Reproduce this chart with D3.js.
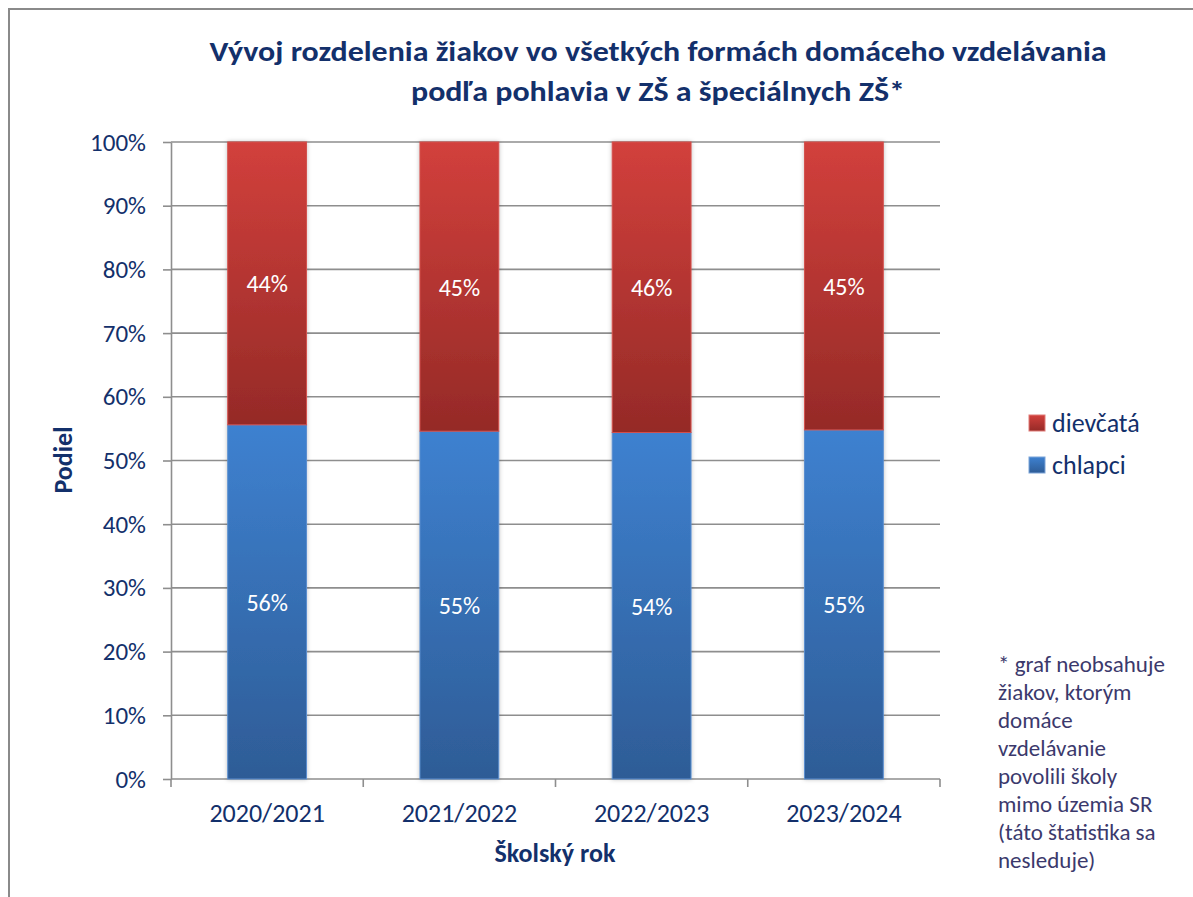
<!DOCTYPE html>
<html lang="sk">
<head>
<meta charset="utf-8">
<script src="https://cdn.jsdelivr.net/npm/d3@7"></script>
<style>
  html, body { margin: 0; padding: 0; background: #fff; }
  svg { display: block; font-family: Carlito, Calibri, Lato, "Open Sans", sans-serif; }
</style>
</head>
<body>
<svg id="chart" width="1193" height="897"></svg>
<script>
// School years on the x axis
const years = ["2020/2021", "2021/2022", "2022/2023", "2023/2024"];
// Share of boys (chlapci) and girls (dievčatá) per year
const chlapci = [0.556, 0.546, 0.544, 0.548];
const dievcata = [0.444, 0.454, 0.456, 0.452];
const seriesNames = ["dievčatá", "chlapci"];
const yTicks = [0, 0.1, 0.2, 0.3, 0.4, 0.5, 0.6, 0.7, 0.8, 0.9, 1.0];
const titleLines = [
  "Vývoj rozdelenia žiakov vo všetkých formách domáceho vzdelávania",
  "podľa pohlavia v ZŠ a špeciálnych ZŠ*"
];
const footnoteLines = [
  "* graf neobsahuje", "žiakov, ktorým", "domáce", "vzdelávanie",
  "povolili školy", "mimo územia SR", "(táto štatistika sa", "nesleduje)"
];

const navy = "#13306b";
const gridColor = "#8e8e8e";
const fontStack = "Carlito, Calibri, Lato, 'Open Sans', sans-serif";
const svg = d3.select("#chart");

// Frame around the chart area
svg.append("path")
  .attr("d", "M9,897 V9 H1193")
  .attr("fill", "none")
  .attr("stroke", "#8a8a8a")
  .attr("stroke-width", 2);

// Gradients: each segment fades from lighter top to darker bottom
const defs = svg.append("defs");
function grad(id, top, bottom) {
  const g = defs.append("linearGradient").attr("id", id)
    .attr("x1", 0).attr("y1", 0).attr("x2", 0).attr("y2", 1);
  g.append("stop").attr("offset", "0%").attr("stop-color", top);
  g.append("stop").attr("offset", "100%").attr("stop-color", bottom);
}
grad("gRed", "#d2403c", "#952a27");
grad("gBlue", "#3e81d0", "#2e5c96");
const shadow = defs.append("filter").attr("id", "shadow")
  .attr("x", "-20%").attr("y", "-5%").attr("width", "140%").attr("height", "110%");
shadow.append("feDropShadow").attr("dx", 0).attr("dy", 0)
  .attr("stdDeviation", 2).attr("flood-color", "#000").attr("flood-opacity", 0.25);

// Scales
const x = d3.scaleBand().domain(years).range([171, 940])
  .paddingInner(0.59).paddingOuter(0.295);
const y = d3.scaleLinear().domain([0, 1]).range([779, 142]);

// Horizontal gridlines
svg.append("g").selectAll("line").data(yTicks.filter(d => d > 0)).join("line")
  .attr("x1", 171).attr("x2", 940)
  .attr("y1", d => y(d)).attr("y2", d => y(d))
  .attr("stroke", gridColor).attr("stroke-width", 1.6);

// Y axis
const yAxis = svg.append("g").attr("transform", "translate(171,0)")
  .call(d3.axisLeft(y).tickValues(yTicks).tickFormat(d3.format(".0%"))
    .tickSizeInner(8).tickSizeOuter(0).tickPadding(17));
yAxis.select(".domain").attr("stroke", gridColor).attr("stroke-width", 1.6);
yAxis.selectAll(".tick line").attr("stroke", gridColor).attr("stroke-width", 1.6);
yAxis.selectAll(".tick text").attr("fill", navy)
  .style("font-size", "25px").style("font-family", fontStack);

// X axis: ticks sit on category boundaries
const xAxisG = svg.append("g").attr("transform", "translate(0,779)");
xAxisG.append("line").attr("x1", 171).attr("x2", 940)
  .attr("stroke", gridColor).attr("stroke-width", 1.6);
const bounds = years.map(d => x(d) - x.step() * x.paddingInner() / 2)
  .concat([x(years[years.length - 1]) + x.bandwidth() + x.step() * x.paddingInner() / 2]);
xAxisG.selectAll("line.tk").data(bounds).join("line").attr("class", "tk")
  .attr("x1", d => d).attr("x2", d => d).attr("y1", 0).attr("y2", 8)
  .attr("stroke", gridColor).attr("stroke-width", 1.6);
xAxisG.selectAll("text").data(years).join("text")
  .attr("x", d => x(d) + x.bandwidth() / 2).attr("y", 43)
  .attr("text-anchor", "middle").attr("fill", navy)
  .style("font-size", "26px").text(d => d);

// Stacked bars
const fmt = d3.format(".0%");
const stackData = years.map((yr, i) => ({ year: yr, chlapci: chlapci[i], dievcata: dievcata[i] }));
const stack = d3.stack().keys(["chlapci", "dievcata"])(stackData);
const fills = { chlapci: "url(#gBlue)", dievcata: "url(#gRed)" };
const edges = { chlapci: "#5b8fd0", dievcata: "#d4514d" };

const barsG = svg.append("g").attr("filter", "url(#shadow)");
stack.forEach(layer => {
  barsG.append("g").selectAll("rect").data(layer).join("rect")
    .attr("x", d => x(d.data.year))
    .attr("width", x.bandwidth())
    .attr("y", d => y(d[1]))
    .attr("height", d => y(d[0]) - y(d[1]))
    .attr("fill", fills[layer.key])
    .attr("stroke", edges[layer.key]).attr("stroke-width", 1);
});
stack.forEach(layer => {
  svg.append("g").selectAll("text").data(layer).join("text")
    .attr("x", d => x(d.data.year) + x.bandwidth() / 2)
    .attr("y", d => (y(d[0]) + y(d[1])) / 2 + 9)
    .attr("text-anchor", "middle").attr("fill", "#fff")
    .style("font-size", "24px")
    .text(d => fmt(d[1] - d[0]));
});

// Title
svg.append("g").selectAll("text").data(titleLines).join("text")
  .attr("x", 658).attr("y", (d, i) => 61 + i * 40)
  .attr("text-anchor", "middle").attr("fill", navy)
  .attr("font-weight", "bold").style("font-size", "28px")
  .attr("textLength", (d, i) => i === 0 ? 897 : 494)
  .attr("lengthAdjust", "spacingAndGlyphs")
  .text(d => d);

// Axis titles
svg.append("text").attr("transform", "translate(72,460) rotate(-90)")
  .attr("text-anchor", "middle").attr("fill", navy)
  .attr("font-weight", "bold").style("font-size", "26px").text("Podiel");
svg.append("text").attr("x", 555).attr("y", 862)
  .attr("text-anchor", "middle").attr("fill", navy)
  .attr("font-weight", "bold").style("font-size", "26px").text("Školský rok");

// Legend
const legendColors = { "dievčatá": "url(#gRed)", "chlapci": "url(#gBlue)" };
const leg = svg.append("g").selectAll("g").data(seriesNames).join("g")
  .attr("transform", (d, i) => `translate(1029,${415 + i * 42})`);
leg.append("rect").attr("width", 16).attr("height", 16)
  .attr("fill", d => legendColors[d])
  .attr("stroke", (d, i) => i === 0 ? "#e07a77" : "#7aa3d8").attr("stroke-width", 1);
leg.append("text").attr("x", 23).attr("y", 17).attr("fill", navy)
  .style("font-size", "26px").text(d => d);

// Footnote
svg.append("g").selectAll("text").data(footnoteLines).join("text")
  .attr("x", 998).attr("y", (d, i) => 672 + i * 28)
  .attr("fill", "#3b396c").style("font-size", "23px")
  .text(d => d);
</script>
</body>
</html>
